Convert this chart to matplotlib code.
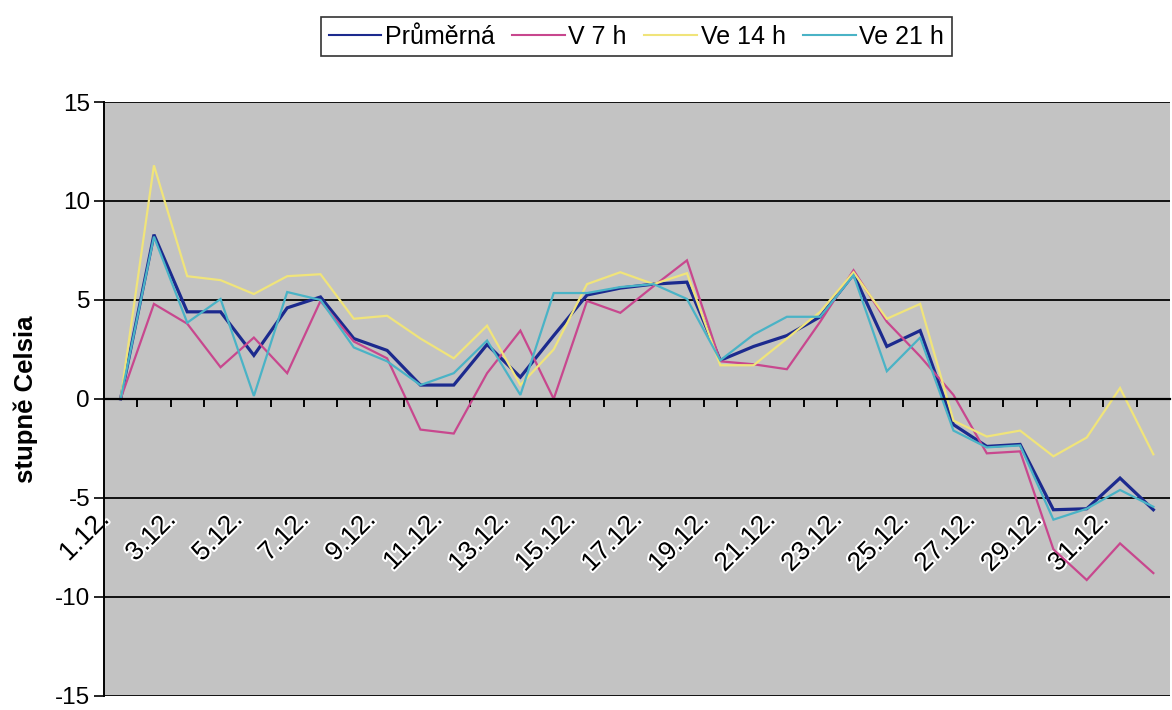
"""Denní teploty v prosinci - prumer a terminy 7, 14, 21 h"""

import matplotlib
matplotlib.use("Agg")
import matplotlib.pyplot as plt
import matplotlib.patheffects as pe
from matplotlib.transforms import ScaledTranslation


# kategorie: 1.12. az 31.12. a jeden bod navic (bez popisku)
days = [str(d) + ".12." for d in range(1, 32)] + [""]

prumerna = [0, 8.3, 4.4, 4.4, 2.2, 4.6, 5.15, 3.05, 2.45, 0.7, 0.7, 2.75,
            1.1, 3.2, 5.25, 5.6, 5.8, 5.9, 1.95, 2.65, 3.2, 4.15,
            6.3, 2.65, 3.45, -1.3, -2.4, -2.3, -5.6, -5.55, -4.0, -5.6]
v7 = [0, 4.8, 3.8, 1.6, 3.1, 1.3, 4.95, 2.9, 2.05, -1.55, -1.75, 1.3,
      3.45, 0.0, 4.95, 4.35, 5.7, 7.0, 1.9, 1.75, 1.5, 3.9,
      6.5, 3.9, 2.15, 0.2, -2.75, -2.65, -7.6, -9.15, -7.3, -8.8]
v14 = [0, 11.8, 6.2, 6.0, 5.3, 6.2, 6.3, 4.05, 4.2, 3.05, 2.05, 3.7,
       0.7, 2.5, 5.8, 6.4, 5.8, 6.35, 1.7, 1.7, 3.05, 4.4,
       6.4, 4.05, 4.8, -1.1, -1.9, -1.6, -2.9, -1.95, 0.55, -2.8]
v21 = [0, 8.2, 3.85, 5.05, 0.15, 5.4, 5.0, 2.6, 1.9, 0.7, 1.3, 2.95,
       0.2, 5.35, 5.35, 5.65, 5.8, 5.05, 1.95, 3.25, 4.15, 4.15,
       6.25, 1.4, 3.1, -1.6, -2.45, -2.35, -6.1, -5.55, -4.6, -5.45]

series = [("Průměrná", prumerna, "#1c2a8e", 2.3),
          ("V 7 h", v7, "#c8478e", 1.6),
          ("Ve 14 h", v14, "#f0e47a", 1.6),
          ("Ve 21 h", v21, "#4ab3c6", 1.6)]

plt.rcParams["font.family"] = ["Liberation Sans", "DejaVu Sans"]
plt.rcParams["axes.unicode_minus"] = False

fig = plt.figure(figsize=(11.72, 7.10), dpi=100)
ax = fig.add_axes([0.0887, 0.02, 0.9096, 0.8363])
ax.set_facecolor("#c3c3c3")

x = list(range(len(days)))
for name, vals, col, lw in series:
	ax.plot(x, vals, color=col, lw=lw, label=name, solid_joinstyle="miter")

ax.set_xlim(-0.5, len(days) - 0.5)
ax.set_ylim(-15, 15)
ax.set_yticks(range(-15, 16, 5))

# vodorovne mrizky
for v in range(-15, 16, 5):
	if v != 0:
		ax.axhline(v, color="#111111", lw=1.4, zorder=0.5)

for s in ["top", "right"]:
	ax.spines[s].set_visible(False)
ax.spines["left"].set_linewidth(1.4)
ax.spines["bottom"].set_position(("data", 0))
ax.spines["bottom"].set_linewidth(1.6)

# popisky kazdy druhy den, zarazky mezi kategoriemi
ax.set_xticks(x[::2])
ax.set_xticklabels(days[::2], rotation=45, ha="right", va="top", fontsize=19)
ax.set_xticks([i + 0.5 for i in range(len(days) - 1)], minor=True)
ax.tick_params(axis="x", which="major", length=0, pad=78)
ax.tick_params(axis="x", which="minor", length=6, width=1.4, direction="out")
offset = ScaledTranslation(-5 / 72, 0, fig.dpi_scale_trans)
for lab in ax.get_xticklabels():
	lab.set_transform(lab.get_transform() + offset)
	lab.set_path_effects([pe.withStroke(linewidth=3, foreground="white")])

ax.tick_params(axis="y", length=7, width=1.2, labelsize=17.5, pad=3)
ax.set_ylabel("stupně Celsia", fontsize=18.5, fontweight="bold", labelpad=12)

leg = fig.legend(loc="center", bbox_to_anchor=(0.543, 0.948), ncol=4,
                 fontsize=18, frameon=True, fancybox=False, handlelength=2.1,
                 handletextpad=0.15, columnspacing=0.7, borderpad=0.3,
                 borderaxespad=0)
leg.get_frame().set_edgecolor("black")
leg.get_frame().set_linewidth(1.2)
for h in leg.get_lines():
	h.set_linewidth(1.5)

plt.savefig("out.png", dpi=100)
